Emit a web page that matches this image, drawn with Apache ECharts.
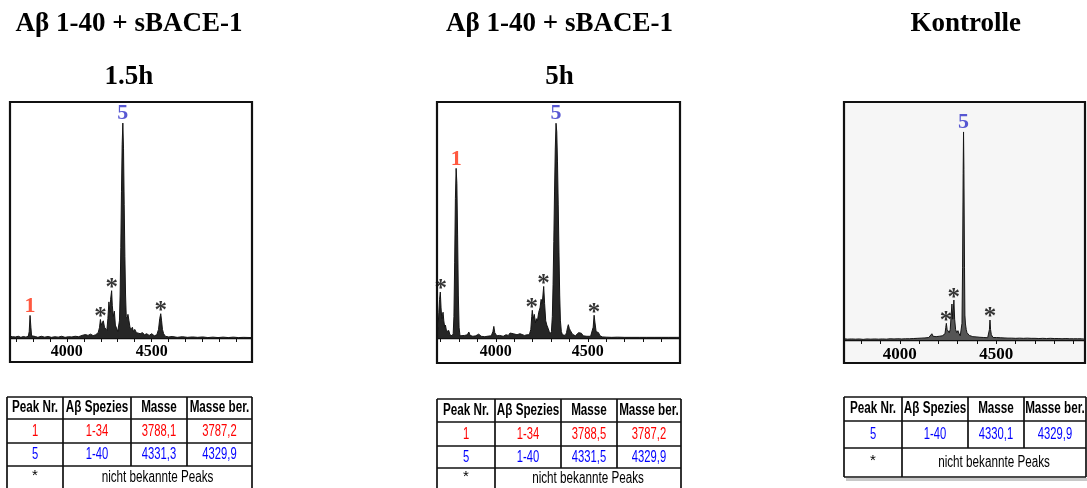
<!DOCTYPE html>
<html><head><meta charset="utf-8">
<script src="https://cdn.jsdelivr.net/npm/echarts@6/dist/echarts.min.js"></script>
<style>html,body{margin:0;padding:0;background:#fff}#c{width:1087px;height:488px}</style>
</head><body><div id="c"></div>
<script>
// ---------- data ----------
const titles = ['Aβ 1-40 + sBACE-1', 'Aβ 1-40 + sBACE-1', 'Kontrolle'];
const subtitles = ['1.5h', '5h', ''];
const tickLabels = [4000, 4500];
const p1Ticks = [3700,3800,3900,4000,4100,4200,4300,4400,4500,4600,4700,4800,4900,5000];
const p2Ticks = [3700,3800,3900,4000,4100,4200,4300,4400,4500,4600,4700,4800,4900];
const p3Ticks = [3800,3900,4000,4100,4200,4300,4400,4500,4600,4700,4800,4900];

// spectra: [m/z, relative intensity]
const p1 = [
[3666,0.8],[3680,0.6],[3690,1.4],[3698,0.5],[3715,0.8],[3730,0.3],[3745,0.7],[3760,0.4],[3774,0.9],
[3779,3],[3784,10.5],[3789,5],[3793,1],[3800,0.4],[3815,0.7],[3830,0.3],[3850,0.8],[3870,0.4],[3890,0.7],[3910,0.3],[3930,0.6],[3950,0.4],[3970,0.8],[3990,0.3],[4010,0.6],[4030,0.5],[4050,0.8],[4070,0.6],[4090,1.2],[4110,1.6],[4125,1.2],[4140,1.8],[4155,1.1],[4170,1.5],[4185,2.5],
[4193,5],[4198,8.6],[4203,6],[4208,7],[4215,8],[4222,5],[4230,4.5],[4236,3.5],[4242,9],[4248,16.8],[4254,12],[4258,18],[4264,22],[4268,15],[4274,10],[4280,12.5],[4286,6],[4294,6],[4300,3],
[4305,3],[4310,8],[4314,20],[4318,42],[4322,68],[4326,90],[4330,100],[4334,88],[4338,62],[4342,38],[4346,20],[4350,10],[4355,9],[4360,11],[4366,8],[4372,5],[4380,4],[4386,5],[4392,3],[4400,4],[4410,2.5],[4420,3],[4432,2],[4445,2.5],[4458,1.5],[4470,2],[4485,1.2],[4500,2],[4515,1],[4530,1.5],
[4540,4],[4547,9],[4553,11.3],[4558,8],[4563,4],[4570,2],[4580,0.8],[4600,0.5],[4620,0.7],[4650,0.3],[4680,0.6],[4710,0.3],[4740,0.5],[4770,0.3],[4800,0.5],[4830,0.2],[4860,0.4],[4890,0.2],[4920,0.4],[4950,0.2],[4980,0.4],[5010,0.2],[5040,0.3],[5090,0.2]
];
const p2 = [
[3680,2],[3686,5],[3690,12],[3694,18],[3698,21.4],[3702,14],[3706,9],[3710,11],[3713,12],[3717,8],[3722,5],[3726,6],[3732,3],[3738,3.5],[3744,3.5],[3750,1.5],[3756,2],[3762,1],
[3768,2],[3772,10],[3776,35],[3780,65],[3784,79],[3788,72],[3792,48],[3796,20],[3800,5],[3805,1],[3815,0.8],[3830,1.2],[3845,1.5],[3853,2.8],[3860,1.2],[3875,0.8],[3890,1],[3907,1.8],[3920,0.8],[3940,0.6],[3960,0.9],[3975,1],[3984,3],[3989,5.4],[3994,2.5],[4005,1],[4020,1.2],[4040,0.8],[4055,1.5],[4068,1.2],[4077,2.3],[4085,1.5],[4095,2],[4105,2.3],[4115,1.5],[4125,2],[4131,2],[4140,1.5],[4155,1.2],[4170,1.5],[4182,1.5],[4190,4],
[4195,10],[4198,12.9],[4203,9],[4209,11],[4215,7],[4220,9],[4226,8],[4233,12],[4240,14],[4246,18],[4252,16],[4256,20],[4260,24],[4265,16],[4271,8],[4277,6],[4284,4.5],[4290,3],[4296,2],
[4302,3],[4307,10],[4311,25],[4315,45],[4319,68],[4323,88],[4327,100],[4331,96],[4335,82],[4339,62],[4343,40],[4347,20],[4351,8],[4356,3],[4362,1.5],[4370,1.8],[4378,1.2],[4384,2.5],[4390,5],[4394,6.2],[4399,4.5],[4405,3.5],[4409,4],[4416,1.8],[4424,1],[4432,1],[4440,1.2],[4450,2.5],[4458,3],[4465,2.2],[4475,1],[4485,0.5],[4495,0.8],[4505,0.6],[4515,0.8],[4524,1.5],
[4529,5],[4534,10.6],[4539,7],[4545,3],[4552,3.7],[4558,2.5],[4566,1],[4580,0.5],[4600,0.4],[4630,0.3],[4660,0.4],[4700,0.3],[4740,0.3],[4780,0.3],[4820,0.3],[4860,0.3],[4900,0.3],[4940,0.3],[4980,0.3],[5001,0.3]
];
const p3 = [
[3711,0.6],[3720,1],[3730,0.4],[3740,0.9],[3750,0.5],[3760,1],[3770,0.4],[3780,0.8],[3790,0.5],[3800,1],[3810,0.3],[3820,0.9],[3830,0.5],[3840,0.8],[3850,0.4],[3860,1],[3870,0.5],[3880,0.8],[3890,0.4],[3900,0.9],[3910,0.5],[3920,0.8],[3930,0.4],[3940,0.9],[3950,0.6],[3960,1],[3970,0.5],[3980,0.9],[3990,0.6],[4000,1],[4010,0.5],[4020,1],[4030,0.6],[4040,1.1],[4050,0.6],[4060,1],[4070,0.7],[4080,1.2],[4090,0.8],[4100,1.3],[4110,0.9],[4120,1.4],[4130,1],[4140,1.6],[4150,1.2],[4160,2],[4166,3],[4172,1.8],[4180,2.2],[4188,1.6],[4196,2.4],[4204,1.8],[4212,2.6],[4220,2],[4228,2.8],[4234,3],
[4238,6],[4241,8],[4245,5],[4251,5.5],[4256,3.5],[4261,5],[4266,12],[4270,17.3],[4274,10],[4277,14],[4280,19.2],[4284,10],[4289,5],[4295,3.5],[4301,4.5],[4307,3],[4313,2],[4318,2.5],
[4322,8],[4325,35],[4328,80],[4330,100],[4332,82],[4335,35],[4337,12],[4340,7.7],[4344,5],[4348,3.5],[4352,3],[4360,2.2],[4369,2],[4378,1.6],[4386,2],[4395,1.5],[4405,1.8],[4415,1.3],[4425,1.5],[4435,1.2],[4445,1.4],[4455,1.1],[4461,2],
[4464,5],[4467,9.6],[4470,5],[4474,2.5],[4478,3],[4483,1.2],[4490,1],[4500,1.2],[4510,0.8],[4520,1.1],[4530,0.7],[4540,1],[4550,0.6],[4560,0.9],[4570,0.5],[4580,0.9],[4590,0.5],[4600,0.8],[4610,0.5],[4620,0.9],[4630,0.4],[4640,0.8],[4650,0.5],[4660,0.9],[4670,0.4],[4680,0.8],[4690,0.5],[4700,0.8],[4710,0.4],[4720,0.7],[4730,0.5],[4740,0.8],[4750,0.4],[4760,0.7],[4770,0.4],[4780,0.8],[4790,0.4],[4800,0.7],[4810,0.4],[4820,0.7],[4830,0.4],[4840,0.6],[4850,0.4],[4860,0.7],[4870,0.4],[4880,0.6],[4890,0.4],[4900,0.6],[4910,0.4],[4920,0.6],[4930,0.4],[4940,0.6],[4959,0.4]
];

// labelled peaks [m/z, intensity, label]
const p1Peaks = [[3784,10.5,'1'],[4330,100,'5']];
const p2Peaks = [[3784,79,'1'],[4327,100,'5']];
const p3Peaks = [[4330,100,'5']];
// unknown peaks (*)
const p1Stars = [[4199,8.6],[4264,22],[4553,11.3]];
const p2Stars = [[3700,21.4],[4195,12.9],[4259,24],[4534,10.6]];
const p3Stars = [[4239,8],[4279,19.2],[4467,9.6]];

// tables
const tableHeader = ['Peak Nr.', 'Aβ Spezies', 'Masse', 'Masse ber.'];
const table1Rows = [['1','1-34','3788,1','3787,2'], ['5','1-40','4331,3','4329,9']];
const table2Rows = [['1','1-34','3788,5','3787,2'], ['5','1-40','4331,5','4329,9']];
const table3Rows = [['5','1-40','4330,1','4329,9']];
const unknownRow = ['*', 'nicht bekannte Peaks'];

// ---------- layout ----------
const panels = [
  {grid:{left:10, top:102, width:242, height:236}, frame:[10,102,242,260], x:[3666,5090], yMax:109.8, data:p1, peaks:p1Peaks, stars:p1Stars, ticks:p1Ticks, bg:'#ffffff', fill:'#262626', lab:16},
  {grid:{left:437, top:102, width:243, height:236}, frame:[437,102,243,261], x:[3680,5001], yMax:109.9, data:p2, peaks:p2Peaks, stars:p2Stars, ticks:p2Ticks, bg:'#ffffff', fill:'#262626', lab:16},
  {grid:{left:844, top:102, width:241, height:238}, frame:[844,102,241,261], x:[3711,4959], yMax:114.4, data:p3, peaks:p3Peaks, stars:p3Stars, ticks:p3Ticks, bg:'#f6f6f6', fill:'#555555', lab:17}
];
const peakColor = {'1':'#ff3010', '5':'#2e2ec8'};
const SERIF = '"Liberation Serif","Times New Roman",serif';
const SANS = '"Liberation Sans",Arial,sans-serif';

const graphic = [];
const grids = [], xAxes = [], yAxes = [], series = [];
panels.forEach((p, i) => {
  graphic.push({type:'rect', silent:true, z:-10, shape:{x:p.frame[0], y:p.frame[1], width:p.frame[2], height:p.frame[3]}, style:{fill:p.bg}});
  graphic.push({type:'rect', silent:true, z:10, shape:{x:p.frame[0], y:p.frame[1], width:p.frame[2], height:p.frame[3]}, style:{fill:null, stroke:'#111', lineWidth:2.2}});
  grids.push(Object.assign({show:false}, p.grid));
  xAxes.push({
    gridIndex:i, type:'value', min:p.x[0], max:p.x[1],
    axisLine:{onZero:false, lineStyle:{color:'#111', width:1.3}},
    axisTick:{show:true, length:4, inside:false, customValues:p.ticks, lineStyle:{color:'#111', width:1}},
    axisLabel:{customValues:tickLabels, formatter:v => String(v), color:'#000', fontFamily:SERIF, fontWeight:'bold', fontSize:p.lab, margin:6},
    splitLine:{show:false}
  });
  yAxes.push({gridIndex:i, type:'value', min:0, max:p.yMax, show:false, splitLine:{show:false}});
  series.push({
    type:'line', xAxisIndex:i, yAxisIndex:i, data:p.data, symbol:'none', smooth:false,
    lineStyle:{color:'#151515', width:1}, areaStyle:{color:p.fill, opacity:1}, silent:true
  });
  series.push({
    type:'scatter', xAxisIndex:i, yAxisIndex:i, symbolSize:1, itemStyle:{color:'rgba(0,0,0,0)'},
    data:p.peaks.map(d => ({value:d, label:{color:peakColor[d[2]]}})),
    label:{show:true, position:'top', distance:0, offset:[0,2],
      formatter:q => q.value[2],
      fontFamily:SERIF, fontWeight:'bold', fontSize:22, color:'#000'}
  });
  series.push({
    type:'scatter', xAxisIndex:i, yAxisIndex:i, data:p.stars, symbolSize:1, itemStyle:{color:'rgba(0,0,0,0)'},
    label:{show:true, position:'top', distance:0, offset:[0,11], formatter:'*',
      fontFamily:SERIF, fontWeight:'bold', fontSize:25, color:'#000'}
  });
});

// ---------- graphic: titles and tables ----------
function txt(x, y, text, font, fill, sx) {
  graphic.push({type:'text', x:x, y:y, scaleX:sx || 1, silent:true,
    style:{text:text, font:font, fill:fill, align:'center', verticalAlign:'middle', textAlign:'center', textVerticalAlign:'middle'}});
}
function line(x1, y1, x2, y2, w, c) {
  graphic.push({type:'line', silent:true, shape:{x1:x1, y1:y1, x2:x2, y2:y2}, style:{stroke:c || '#111', lineWidth:w || 1.4}});
}
const titleX = [129, 559.5, 965.7];
titles.forEach((t, i) => {
  txt(titleX[i], 24, t, 'bold 27px ' + SERIF, '#000');
  if (subtitles[i]) txt(titleX[i], 77, subtitles[i], 'bold 27px ' + SERIF, '#000');
});

function table(cols, rows, dataRows) {
  const n = rows.length - 1;
  rows.forEach(y => { if (y < 488) line(cols[0], y, cols[4], y, 1.7); });
  line(cols[0], rows[0], cols[0], rows[n], 1.7);
  line(cols[4], rows[0], cols[4], rows[n], 1.7);
  line(cols[1], rows[0], cols[1], rows[n], 1.7);
  line(cols[2], rows[0], cols[2], rows[n-1], 1.7);
  line(cols[3], rows[0], cols[3], rows[n-1], 1.7);
  const cx = k => (cols[k] + cols[k+1]) / 2;
  const cy = k => (rows[k] + rows[k+1]) / 2;
  tableHeader.forEach((h, k) => txt(cx(k), cy(0), h, 'bold 16px ' + SANS, '#000', 0.73));
  dataRows.forEach((r, j) => {
    const col = r[0] === '1' ? '#ff0000' : '#0000ff';
    r.forEach((v, k) => txt(cx(k), cy(j+1), v, '17px ' + SANS, col, 0.66));
  });
  txt(cx(0), cy(n-1) - 2, unknownRow[0], '15px ' + SANS, '#000', 1);
  txt((cols[1] + cols[4]) / 2, cy(n-1), unknownRow[1], '16px ' + SANS, '#000', 0.73);
}
table([7,63,131,187,252], [397,419,443,466,490], table1Rows);
table([437,495,561,617,681], [399,422,446,468,490], table2Rows);
graphic.push({type:'rect', silent:true, shape:{x:846, y:478, width:241, height:3}, style:{fill:'#c8c8c8'}});
table([844,902,968,1024,1086], [397,421,448,477], table3Rows);

const chart = echarts.init(document.getElementById('c'), null, {renderer:'canvas'});
chart.setOption({
  animation:false, backgroundColor:'#ffffff',
  grid:grids, xAxis:xAxes, yAxis:yAxes, series:series, graphic:graphic
});
</script></body></html>
